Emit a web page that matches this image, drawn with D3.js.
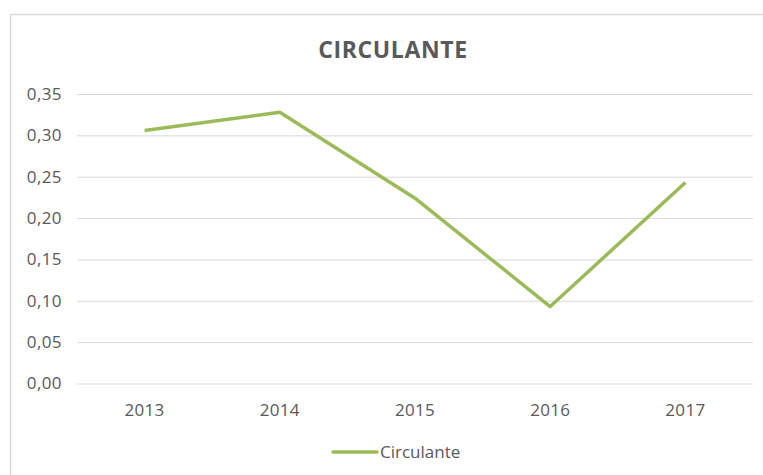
<!DOCTYPE html>
<html>
<head>
<meta charset="utf-8">
<script src="https://cdn.jsdelivr.net/npm/d3@7"></script>
<style>
  body { margin: 0; background: #fff; }
  text { font-family: "Open Sans", sans-serif; fill: #595959; }
</style>
</head>
<body>
<div id="chart"></div>
<script>
var years = ["2013", "2014", "2015", "2016", "2017"];
var circulante = [0.306, 0.328, 0.224, 0.093, 0.243];
var yTicks = [0, 0.05, 0.10, 0.15, 0.20, 0.25, 0.30, 0.35];
var seriesName = "Circulante";
var chartTitle = "CIRCULANTE";

var W = 763, H = 475;
var margin = { top: 94, left: 77, bottom: 91.5, right: 10 };
var width = W - margin.left - margin.right;
var height = H - margin.top - margin.bottom;

var svg = d3.select("#chart").append("svg")
    .attr("width", W)
    .attr("height", H);

// chart border
svg.append("rect")
    .attr("x", 10.5).attr("y", 14.5)
    .attr("width", W).attr("height", H)
    .attr("fill", "none")
    .attr("stroke", "#d9d9d9")
    .attr("stroke-width", 1.5);

svg.append("text")
    .attr("x", 393).attr("y", 58)
    .attr("text-anchor", "middle")
    .attr("font-size", 23)
    .attr("letter-spacing", 0.6)
    .attr("font-weight", "bold")
    .text(chartTitle);

var g = svg.append("g")
    .attr("transform", "translate(" + margin.left + "," + margin.top + ")");

var x = d3.scaleBand().domain(years).range([0, width]);
var y = d3.scaleLinear().domain([0, 0.35]).range([height, 0]);

var fmt = function(d) { return d3.format(".2f")(d).replace(".", ","); };

// gridlines + y labels
var yAxis = g.append("g")
    .call(d3.axisLeft(y).tickValues(yTicks).tickSize(-width).tickFormat(fmt));
yAxis.select(".domain").remove();
yAxis.selectAll(".tick line").attr("stroke", "#d9d9d9");
yAxis.selectAll(".tick text")
    .attr("x", -15)
    .attr("font-size", 17)
    .attr("letter-spacing", 0.4)
    .style("font-family", "'Open Sans', sans-serif")
    .attr("fill", "#595959");

// x labels
var xAxis = g.append("g")
    .attr("transform", "translate(0," + height + ")")
    .call(d3.axisBottom(x).tickSize(0));
xAxis.select(".domain").remove();
xAxis.selectAll(".tick text")
    .attr("dy", 0)
    .attr("y", 32)
    .attr("font-size", 17)
    .attr("letter-spacing", 0.3)
    .style("font-family", "'Open Sans', sans-serif")
    .attr("fill", "#595959");

var line = d3.line()
    .x(function(d, i) { return x(years[i]) + x.bandwidth() / 2; })
    .y(function(d) { return y(d); });

g.append("path")
    .datum(circulante)
    .attr("d", line)
    .attr("fill", "none")
    .attr("stroke", "#9bbb59")
    .attr("stroke-width", 3.5)
    .attr("stroke-linejoin", "round");

// legend
var legend = svg.append("g").attr("transform", "translate(333,452)");
legend.append("line")
    .attr("x1", 0).attr("x2", 44)
    .attr("stroke", "#9bbb59")
    .attr("stroke-width", 3.5)
    .attr("stroke-linecap", "round");
legend.append("text")
    .attr("x", 47).attr("y", 6)
    .attr("font-size", 17)
    .text(seriesName);
</script>
</body>
</html>
